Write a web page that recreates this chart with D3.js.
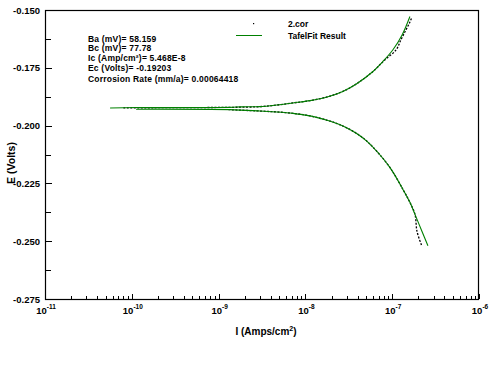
<!DOCTYPE html>
<html><head><meta charset="utf-8">
<script src="https://cdn.jsdelivr.net/npm/d3@7"></script>
<style>body{margin:0;background:#fff}svg{display:block}text{font-family:"Liberation Sans",Arial,sans-serif;font-weight:bold}</style>
</head><body><svg id="c" width="495" height="382"></svg>
<script>
// Tafel fit curves (current density A/cm², potential V)
const anodicFitI = [5.62e-11,1.12e-10,1.35e-9,1.82e-9,3.0e-9,4.7e-9,7.2e-9,1.13e-8,1.78e-8,2.7e-8,3.9e-8,6.0e-8,7.8e-8,1.02e-7,1.30e-7,1.60e-7];
const anodicFitE = [-0.1924,-0.1922,-0.1921,-0.1919,-0.1918,-0.1911,-0.1902,-0.1892,-0.1876,-0.1852,-0.1819,-0.1766,-0.1723,-0.1672,-0.1608,-0.1528];
const cathodicFitI = [1.12e-10,1.35e-9,3.0e-9,4.7e-9,7.2e-9,1.13e-8,1.78e-8,2.31e-8,3.01e-8,3.93e-8,5.13e-8,6.68e-8,9.44e-8,1.33e-7,1.60e-7,1.83e-7,2.20e-7,2.58e-7];
const cathodicFitE = [-0.1929,-0.1931,-0.1937,-0.1941,-0.1947,-0.1958,-0.1977,-0.1991,-0.2010,-0.2035,-0.2068,-0.2112,-0.2182,-0.2276,-0.2332,-0.2384,-0.2457,-0.2520];
// measured data (2.cor)
const anodicDataI = [8.0e-11,1.35e-9,3.0e-9,4.7e-9,7.2e-9,1.13e-8,1.78e-8,2.7e-8,3.9e-8,6.0e-8,8.0e-8,1.11e-7,1.26e-7,1.44e-7,1.60e-7,1.69e-7];
const anodicDataE = [-0.1923,-0.1921,-0.1918,-0.1911,-0.1902,-0.1892,-0.1876,-0.1852,-0.1819,-0.1766,-0.1720,-0.1672,-0.1629,-0.1586,-0.1552,-0.1530];
const cathodicDataI = [1.3e-9,3.0e-9,4.7e-9,7.2e-9,1.13e-8,1.78e-8,2.31e-8,3.01e-8,3.93e-8,5.13e-8,6.68e-8,9.44e-8,1.33e-7,1.60e-7,1.83e-7,1.93e-7,2.19e-7];
const cathodicDataE = [-0.1931,-0.1937,-0.1941,-0.1947,-0.1958,-0.1977,-0.1991,-0.2010,-0.2035,-0.2068,-0.2112,-0.2182,-0.2276,-0.2332,-0.2384,-0.2457,-0.2520];
const yTicks = [-0.150,-0.175,-0.200,-0.225,-0.250,-0.275];
const xTickExps = [-11,-10,-9,-8,-7,-6];
const legendLabels = ["2.cor","TafelFit Result"];
const resultLines = ["Ba (mV)= 58.159","Bc (mV)= 77.78","Ic (Amp/cm\u00B2)= 5.468E-8","Ec (Volts)= -0.19203","Corrosion Rate (mm/a)= 0.00064418"];

const svg = d3.select("#c");
const L=45,R=479,T=10,B=299;
const x = d3.scaleLog().domain([1e-11,1e-6]).range([L,R]);
const y = d3.scaleLinear().domain([-0.275,-0.150]).range([B,T]);
const black="#000", green="#008000";

// minor y ticks
const yMinor = d3.range(0,11).map(i=>-0.2625+i*0.0125);
svg.append("g").selectAll("line").data(yMinor).join("line")
  .attr("x1",L).attr("x2",L+6).attr("y1",d=>Math.round(y(d))+0.5).attr("y2",d=>Math.round(y(d))+0.5)
  .attr("stroke",black);
svg.append("g").selectAll("line").data(yTicks).join("line")
  .attr("x1",L).attr("x2",L+7).attr("y1",d=>Math.round(y(d))+0.5).attr("y2",d=>Math.round(y(d))+0.5)
  .attr("stroke",black);
svg.append("g").selectAll("text").data(yTicks).join("text")
  .attr("x",L-5).attr("y",d=>y(d)+3.5).attr("text-anchor","end").attr("font-size",9.5)
  .text(d=>d.toFixed(3));

// x ticks
const xMinor=[];
xTickExps.slice(0,-1).forEach(e=>{for(let k=2;k<=9;k++)xMinor.push(k*Math.pow(10,e));});
svg.append("g").selectAll("line").data(xMinor).join("line")
  .attr("x1",d=>Math.round(x(d))+0.5).attr("x2",d=>Math.round(x(d))+0.5).attr("y1",B).attr("y2",B-3)
  .attr("stroke",black);
svg.append("g").selectAll("line").data(xTickExps).join("line")
  .attr("x1",d=>Math.round(x(Math.pow(10,d)))+0.5).attr("x2",d=>Math.round(x(Math.pow(10,d)))+0.5).attr("y1",B).attr("y2",B-5)
  .attr("stroke",black);
const xl = svg.append("g").selectAll("text").data(xTickExps).join("text")
  .attr("x",d=>x(Math.pow(10,d))+1).attr("y",314).attr("text-anchor","middle").attr("font-size",9.5);
xl.append("tspan").text("10");
xl.append("tspan").attr("dy",-5).attr("font-size",6.5).text(d=>"-"+Math.abs(d));

// frame
svg.append("rect").attr("x",L+0.5).attr("y",T+0.5).attr("width",R-L-1).attr("height",B-T)
  .attr("fill","none").attr("stroke",black).attr("stroke-width",1.2);

// axis titles
const xt = svg.append("text").attr("x",266).attr("y",335).attr("text-anchor","middle").attr("font-size",10);
xt.append("tspan").text("I (Amps/cm");
xt.append("tspan").attr("dy",-4).attr("font-size",7).text("2");
xt.append("tspan").attr("dy",4).text(")");
svg.append("text").attr("transform","translate(15,163) rotate(-90)").attr("text-anchor","middle")
  .attr("font-size",10.5).text("E (Volts)");

// curves
const line = d3.line().x(d=>x(d[0])).y(d=>y(d[1])).curve(d3.curveCatmullRom.alpha(0.5));
const zipP=(a,b)=>a.map((v,i)=>[v,b[i]]);
[[anodicDataI,anodicDataE],[cathodicDataI,cathodicDataE]].forEach(([I,E])=>{
  svg.append("path").attr("d",line(zipP(I,E))).attr("fill","none").attr("stroke",black)
    .attr("stroke-width",1.3).attr("stroke-dasharray","2,1.5");
});
[[anodicFitI,anodicFitE],[cathodicFitI,cathodicFitE]].forEach(([I,E])=>{
  svg.append("path").attr("d",line(zipP(I,E))).attr("fill","none").attr("stroke",green).attr("stroke-width",1.1);
});

// legend
svg.append("rect").attr("x",253).attr("y",23).attr("width",1.2).attr("height",1.2).attr("fill",black);
svg.append("line").attr("x1",236).attr("x2",262).attr("y1",35.5).attr("y2",35.5).attr("stroke",green);
svg.append("g").selectAll("text").data(legendLabels).join("text")
  .attr("x",288).attr("y",(d,i)=>27+i*11.5).attr("font-size",8.5).text(d=>d);

// results text
svg.append("g").selectAll("text").data(resultLines).join("text")
  .attr("x",88).attr("y",(d,i)=>[41.5,50.5,60.5,71,81.5][i]).attr("font-size",8.5)
  .attr("letter-spacing",0.2).text(d=>d);
</script></body></html>
